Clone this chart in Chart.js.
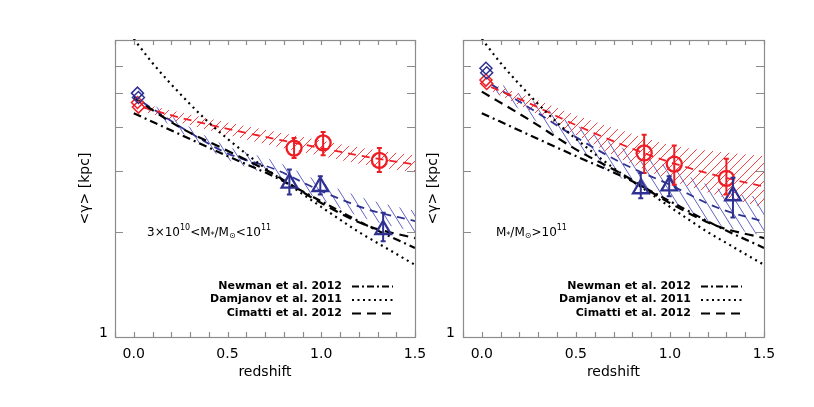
<!DOCTYPE html>
<html>
<head>
<meta charset="utf-8">
<script src="https://cdn.jsdelivr.net/npm/chart.js@4.4.1/dist/chart.umd.min.js"></script>
<style>
  body { margin: 0; background: #fff; }
  #wrap { position: relative; width: 814px; height: 407px; }
  #wrap canvas { position: absolute; left: 0; top: 0; }
</style>
</head>
<body>
<div id="wrap">
  <canvas id="lowMass" width="814" height="407"></canvas>
  <canvas id="highMass" width="814" height="407"></canvas>
</div>
<script>
// ---- data ----
const xTickLabels = ['0.0', '0.5', '1.0', '1.5'];
const yTickVals = [1, 2, 3, 4, 5, 6];

// literature relations (same in both panels except Cimatti)
const zModel = [0, 0.25, 0.5, 0.75, 1.0, 1.25, 1.5];
const newman = [4.38, 3.80, 3.30, 2.88, 2.45, 2.08, 1.80];
const zDamj = [0, 0.1, 0.2, 0.3, 0.4, 0.5, 0.6, 0.7, 0.8, 0.9, 1.0, 1.1, 1.2, 1.3, 1.4, 1.5];
const damjanov = [7.15, 6.1, 5.3, 4.65, 4.12, 3.7, 3.35, 3.05, 2.8, 2.57, 2.36, 2.17, 2.0, 1.86, 1.73, 1.61];
const cimattiLow = [4.85, 3.98, 3.42, 2.92, 2.42, 2.08, 1.92];
const cimattiHigh = [5.05, 4.20, 3.45, 2.92, 2.42, 2.08, 1.92];

// hatched bands
const zBand = [0.05, 0.25, 0.5, 0.75, 1.0, 1.25, 1.5];
const lowRedMid = [4.55, 4.25, 3.95, 3.70, 3.48, 3.28, 3.12];
const lowRedUp  = [4.66, 4.40, 4.12, 3.88, 3.66, 3.46, 3.32];
const lowRedLo  = [4.44, 4.11, 3.79, 3.52, 3.30, 3.10, 2.96];
const lowBlueMid = [4.70, 4.00, 3.36, 3.03, 2.62, 2.32, 2.15];
const lowBlueUp  = [4.83, 4.14, 3.52, 3.20, 2.78, 2.48, 2.30];
const lowBlueLo  = [4.57, 3.86, 3.22, 2.87, 2.47, 2.17, 2.00];
const highRedMid = [5.20, 4.68, 4.05, 3.55, 3.17, 2.90, 2.70];
const highRedUp  = [5.32, 4.88, 4.32, 3.90, 3.55, 3.40, 3.30];
const highRedLo  = [5.08, 4.48, 3.80, 3.22, 2.82, 2.55, 2.35];
const highBlueMid = [5.30, 4.55, 3.74, 3.14, 2.73, 2.35, 2.14];
const highBlueUp  = [5.48, 4.82, 4.05, 3.48, 3.06, 2.67, 2.50];
const highBlueLo  = [5.12, 4.30, 3.45, 2.83, 2.43, 2.10, 1.95];

// measurements
const lowCircZ = [0.855, 1.01, 1.31];
const lowCirc = [3.48, 3.60, 3.21];
const lowCircLo = [3.26, 3.32, 2.97];
const lowCircHi = [3.72, 3.87, 3.48];
const lowTriZ = [0.83, 0.995, 1.33];
const lowTri = [2.76, 2.70, 2.03];
const lowTriLo = [2.56, 2.56, 1.88];
const lowTriHi = [3.02, 2.89, 2.27];
const lowDiaZ = [0.02, 0.025];
const lowDiaBlue = [5.0, 4.86];
const lowDiaRed = [4.70, 4.56];

const highCircZ = [0.863, 1.023, 1.30];
const highCirc = [3.37, 3.13, 2.85];
const highCircLo = [2.95, 2.73, 2.56];
const highCircHi = [3.80, 3.54, 3.24];
const highTriZ = [0.845, 0.996, 1.335];
const highTri = [2.66, 2.71, 2.54];
const highTriLo = [2.50, 2.53, 2.20];
const highTriHi = [2.95, 2.89, 2.86];
const highDiaZ = [0.022, 0.026];
const highDiaBlue = [5.89, 5.72];
const highDiaRed = [5.45, 5.33];

const legendNames = ['Newman et al. 2012', 'Damjanov et al. 2011', 'Cimatti et al. 2012'];
const legendDash = [[7, 3, 2, 3], [2, 3.5], [9, 6]];

// ---- styles ----
const RED = '#ee1d25';
const BLUE = '#2e3192';
const AXIS = '#8c8c8c';
const FONT = 'DejaVu Sans';
Chart.defaults.font.family = FONT;

const pts = (xs, ys) => xs.map((x, i) => ({x: x, y: ys[i]}));

// diagonal line tile -> repeating pattern
function hatch(ctx, color, w, h, up) {
  const c = document.createElement('canvas');
  c.width = w; c.height = h;
  const g = c.getContext('2d');
  g.strokeStyle = color;
  g.lineWidth = 1;
  g.beginPath();
  for (let k = -1; k <= 1; k++) {
    if (up) { g.moveTo(k * w, h); g.lineTo(k * w + w, 0); }
    else { g.moveTo(k * w, 0); g.lineTo(k * w + w, h); }
  }
  g.stroke();
  return ctx.createPattern(c, 'repeat');
}

const errorBars = {
  id: 'errorBars',
  afterDatasetsDraw(chart) {
    const {ctx, scales: {y}} = chart;
    chart.data.datasets.forEach((ds, i) => {
      if (!ds.errLo) return;
      const meta = chart.getDatasetMeta(i);
      ctx.save();
      ctx.strokeStyle = ds.borderColor;
      ctx.lineWidth = 2;
      ctx.beginPath();
      meta.data.forEach((pt, j) => {
        const y0 = y.getPixelForValue(ds.errLo[j]);
        const y1 = y.getPixelForValue(ds.errHi[j]);
        ctx.moveTo(pt.x, y0); ctx.lineTo(pt.x, y1);
        ctx.moveTo(pt.x - 2.5, y0); ctx.lineTo(pt.x + 2.5, y0);
        ctx.moveTo(pt.x - 2.5, y1); ctx.lineTo(pt.x + 2.5, y1);
      });
      ctx.stroke();
      ctx.restore();
    });
  }
};

const frame = {
  id: 'frame',
  afterDatasetsDraw(chart) {
    const {ctx, chartArea: a, scales: {x, y}} = chart;
    ctx.save();
    ctx.strokeStyle = AXIS;
    ctx.lineWidth = 1.2;
    ctx.strokeRect(a.left + 0.5, a.top + 0.5, a.right - a.left, a.bottom - a.top);
    ctx.beginPath();
    x.ticks.forEach(t => {
      const px = Math.round(x.getPixelForValue(t.value)) + 0.5;
      ctx.moveTo(px, a.bottom); ctx.lineTo(px, a.bottom - 5);
      ctx.moveTo(px, a.top); ctx.lineTo(px, a.top + 5);
    });
    y.ticks.forEach(t => {
      const py = Math.round(y.getPixelForValue(t.value)) + 0.5;
      ctx.moveTo(a.left, py); ctx.lineTo(a.left + 8, py);
      ctx.moveTo(a.right, py); ctx.lineTo(a.right - 8, py);
    });
    ctx.stroke();
    ctx.restore();
  }
};

function richText(ctx, x, y, parts) {
  parts.forEach(([t, size, dy]) => {
    ctx.font = size + 'px ' + FONT;
    ctx.fillText(t, x, y + dy);
    x += ctx.measureText(t).width;
  });
}

function makePanel(id, p) {
  const canvas = document.getElementById(id);
  const ctx = canvas.getContext('2d');
  const redHatch = hatch(ctx, '#ff4040', 9, 9, true);
  const blueHatch = hatch(ctx, '#6266c4', 10, 16, false);

  const marker = (xs, ys, color, style, r, lo, hi) => ({
    data: pts(xs, ys), pointStyle: style, pointRadius: r, borderColor: color,
    pointBorderColor: color, pointBackgroundColor: 'transparent', pointBorderWidth: style === 'rectRot' ? 1.5 : 2.3,
    showLine: false, errLo: lo, errHi: hi, clip: false
  });
  const line = (xs, ys, color, dash, width) => ({
    data: pts(xs, ys), showLine: true, borderColor: color, borderWidth: width, borderDash: dash,
    pointRadius: 0, fill: false, cubicInterpolationMode: 'monotone', clip: 1
  });
  const edge = (ys, pattern) => ({
    data: pts(zBand, ys), showLine: true, borderColor: 'rgba(0,0,0,0)', borderWidth: 1,
    pointRadius: 0, backgroundColor: 'rgba(0,0,0,0)', cubicInterpolationMode: 'monotone',
    fill: pattern ? {target: '+1', above: pattern, below: pattern} : false
  });

  const texts = {
    id: 'texts',
    afterDraw(chart) {
      const c = chart.ctx, a = chart.chartArea;
      c.save();
      c.fillStyle = '#000';
      c.textBaseline = 'middle';
      c.textAlign = 'left';
      richText(c, a.left + p.noteDx, 233, p.note);
      const tx = a.right - 73;
      legendNames.forEach((name, i) => {
        const ly = a.bottom - 51 + i * 13.5;
        c.font = 'bold 11px ' + FONT;
        c.textAlign = 'right';
        c.fillText(name, tx, ly);
        c.strokeStyle = '#000';
        c.lineWidth = 2;
        c.setLineDash(legendDash[i]);
        c.beginPath();
        c.moveTo(a.right - 63, ly + 0.5);
        c.lineTo(a.right - 22, ly + 0.5);
        c.stroke();
      });
      c.restore();
    }
  };

  return new Chart(ctx, {
    type: 'scatter',
    data: {
      datasets: [
        marker(p.circZ, p.circ, RED, 'circle', 7.5, p.circLo, p.circHi),
        marker(p.triZ, p.tri, BLUE, 'triangle', 9, p.triLo, p.triHi),
        marker(p.diaZ, p.diaBlue, BLUE, 'rectRot', 6),
        marker(p.diaZ, p.diaRed, RED, 'rectRot', 6),
        line(zModel, newman, '#000', [8, 4, 2, 4], 2.2),
        line(zDamj, damjanov, '#000', [2, 4], 2.2),
        line(zModel, p.cimatti, '#000', [9, 6], 2.2),
        line(zBand, p.redMid, RED, [8, 6], 1.8),
        line(zBand, p.blueMid, BLUE, [8, 6], 1.8),
        edge(p.redUp, redHatch),
        edge(p.redLo, null),
        edge(p.blueUp, blueHatch),
        edge(p.blueLo, null)
      ]
    },
    options: {
      responsive: false,
      animation: false,
      events: [],
      layout: {padding: {left: p.padLeft, right: p.padRight, top: 40, bottom: 0}},
      plugins: {legend: {display: false}, tooltip: {enabled: false}},
      scales: {
        x: {
          type: 'linear', min: -0.1, max: 1.5, position: 'bottom',
          afterFit: s => { s.height = 70; },
          grid: {display: false, drawTicks: false},
          border: {display: false},
          ticks: {
            stepSize: 0.1, autoSkip: false, maxRotation: 0, padding: 9, color: '#000',
            font: {size: 14},
            callback: v => {
              const lbl = (Math.round(v * 10) / 10).toFixed(1);
              return xTickLabels.includes(lbl) ? lbl : '';
            }
          },
          title: {display: true, text: 'redshift', color: '#000', font: {size: 14}, padding: {top: 0, bottom: 26}}
        },
        y: {
          type: 'logarithmic', min: 1, max: 7.1, position: 'left',
          afterFit: s => { s.width = p.yWidth; },
          afterBuildTicks: s => { s.ticks = yTickVals.map(v => ({value: v})); },
          grid: {display: false, drawTicks: false},
          border: {display: false},
          ticks: {
            padding: p.yPad, color: '#000', font: {size: 14}, labelOffset: -4, autoSkip: false,
            callback: v => (v === 1 ? '1' : '')
          },
          title: {display: true, text: '<γ> [kpc]', color: '#000', font: {size: 14}, padding: {top: p.titlePad, bottom: 0}}
        }
      }
    },
    plugins: [frame, errorBars, texts]
  });
}

makePanel('lowMass', {
  padLeft: 0, padRight: 399, yWidth: 115, yPad: 7, titlePad: 77, noteDx: 32,
  note: [['3×10', 12, 0], ['10', 8, -5], ['<M', 12, 0], ['*', 8, 3], ['/M', 12, 0], ['⊙', 8, 3], ['<10', 12, 0], ['11', 8, -5]],
  cimatti: cimattiLow,
  redMid: lowRedMid, redUp: lowRedUp, redLo: lowRedLo,
  blueMid: lowBlueMid, blueUp: lowBlueUp, blueLo: lowBlueLo,
  circZ: lowCircZ, circ: lowCirc, circLo: lowCircLo, circHi: lowCircHi,
  triZ: lowTriZ, tri: lowTri, triLo: lowTriLo, triHi: lowTriHi,
  diaZ: lowDiaZ, diaBlue: lowDiaBlue, diaRed: lowDiaRed
});

makePanel('highMass', {
  padLeft: 420, padRight: 50, yWidth: 43, yPad: 8, titlePad: 5, noteDx: 33,
  note: [['M', 12, 0], ['*', 8, 3], ['/M', 12, 0], ['⊙', 8, 3], ['>10', 12, 0], ['11', 8, -5]],
  cimatti: cimattiHigh,
  redMid: highRedMid, redUp: highRedUp, redLo: highRedLo,
  blueMid: highBlueMid, blueUp: highBlueUp, blueLo: highBlueLo,
  circZ: highCircZ, circ: highCirc, circLo: highCircLo, circHi: highCircHi,
  triZ: highTriZ, tri: highTri, triLo: highTriLo, triHi: highTriHi,
  diaZ: highDiaZ, diaBlue: highDiaBlue, diaRed: highDiaRed
});
</script>
</body>
</html>
